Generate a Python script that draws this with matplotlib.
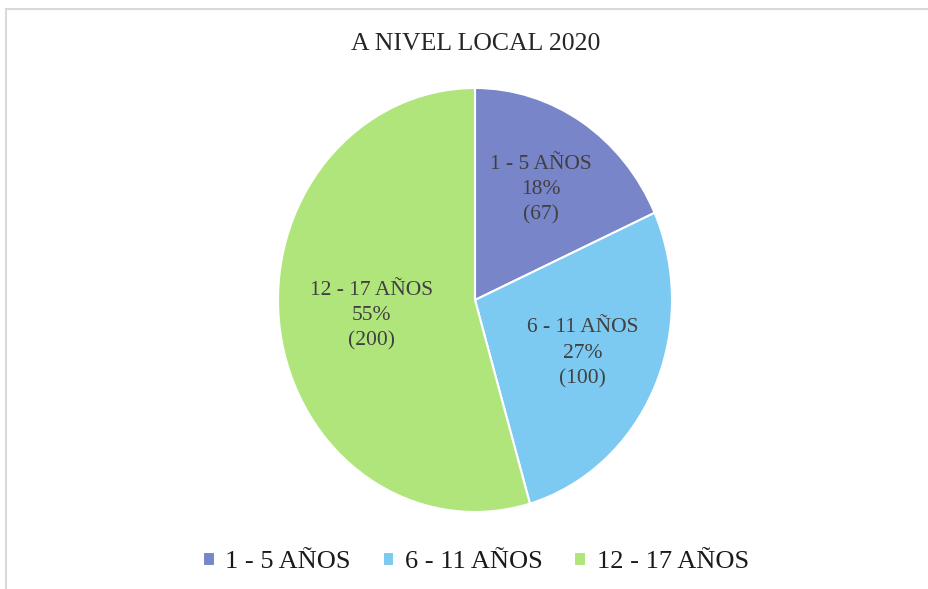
import numpy as np
import matplotlib.pyplot as plt
from matplotlib.patches import Rectangle

categorias = ['1 - 5 AÑOS', '6 - 11 AÑOS', '12 - 17 AÑOS']
valores = [67, 100, 200]
porcentajes = ['18%', '27%', '55%']
colores = ['#7885C9', '#7CC9F1', '#B0E57C']
distancias = [0.62, 0.6, 0.53]

plt.rcParams['font.family'] = ['Liberation Serif', 'DejaVu Serif']

W, H = 929, 589
fig = plt.figure(figsize=(W / 100, H / 100), dpi=100)

# marco gris (solo se ven borde superior e izquierdo)
fig.patches.append(Rectangle((6 / W, -0.1), 1.2, 1 - 9 / H + 0.1,
                             transform=fig.transFigure, fill=False,
                             edgecolor='#D9D9D9', linewidth=1.5))

# centro y radios de la elipse en pixeles
cx, cy, rx, ry = 475, 300, 197, 212
ax = fig.add_axes([(cx - rx) / W, 1 - (cy + ry) / H, 2 * rx / W, 2 * ry / H])

wedges, _ = ax.pie(
    valores, colors=colores, startangle=90, counterclock=False,
    wedgeprops=dict(edgecolor='white', linewidth=1.5))
ax.set_aspect('auto')
ax.set_xlim(-1, 1)
ax.set_ylim(-1, 1)

for w, c, p, v, d in zip(wedges, categorias, porcentajes, valores, distancias):
    ang = np.deg2rad((w.theta1 + w.theta2) / 2)
    ax.text(d * np.cos(ang), d * np.sin(ang), f'{c}\n{p}\n({v})',
            ha='center', va='center', color='#404040', fontsize=15.5,
            linespacing=1.45)

fig.text(476 / W, 1 - 44 / H, 'A NIVEL LOCAL 2020', ha='center', va='center',
         fontsize=18.5, color='#262626')

fig.legend(wedges, categorias, loc='center', bbox_to_anchor=(476 / W, 1 - 562 / H),
           ncol=3, frameon=False, fontsize=19, handlelength=0.45, handleheight=0.45,
           handletextpad=0.4, columnspacing=1.2, labelcolor='#1a1a1a')

fig.savefig('out.png', dpi=100)
